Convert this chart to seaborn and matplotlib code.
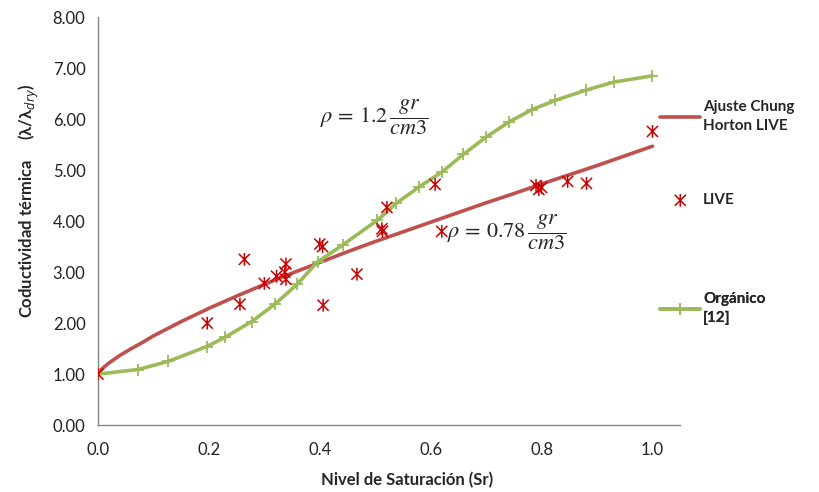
import matplotlib
matplotlib.use("Agg")
import matplotlib.pyplot as plt
from matplotlib.path import Path
import seaborn as sns

# fitted Chung-Horton curve
fit_x = [0.0, 0.005, 0.01, 0.02, 0.04, 0.06, 0.08, 0.1, 0.15, 0.2, 0.25, 0.3, 0.35, 0.4,
         0.45, 0.5, 0.55, 0.6, 0.65, 0.7, 0.75, 0.8, 0.85, 0.9, 0.95, 1.0]
fit_y = [1.00, 1.08, 1.13, 1.22, 1.37, 1.50, 1.62, 1.75, 2.03, 2.29, 2.53, 2.76, 2.98, 3.19,
         3.40, 3.60, 3.79, 3.98, 4.17, 4.36, 4.54, 4.73, 4.91, 5.09, 5.28, 5.47]

# LIVE measurements
live_x = [0.0, 0.197, 0.256, 0.264, 0.30, 0.322, 0.337, 0.339, 0.339, 0.40, 0.405, 0.406,
          0.467, 0.512, 0.513, 0.521, 0.608, 0.62, 0.79, 0.795, 0.80, 0.847, 0.881, 1.0]
live_y = [1.00, 2.00, 2.37, 3.25, 2.78, 2.92, 3.00, 3.16, 2.86, 3.55, 3.50, 2.35,
          2.96, 3.85, 3.80, 4.27, 4.72, 3.80, 4.70, 4.62, 4.66, 4.78, 4.74, 5.76]

# Organic soil reference [12]
org_x = [0.0, 0.072, 0.127, 0.196, 0.229, 0.277, 0.319, 0.359, 0.396, 0.441, 0.504, 0.538,
         0.579, 0.621, 0.659, 0.70, 0.742, 0.783, 0.825, 0.88, 0.931, 1.0]
org_y = [1.00, 1.09, 1.25, 1.54, 1.72, 2.03, 2.37, 2.76, 3.20, 3.53, 4.02, 4.35,
         4.67, 4.97, 5.31, 5.65, 5.95, 6.19, 6.37, 6.57, 6.73, 6.85]

red_line = "#C0504D"
red_mark = "#CC0000"
green = "#9BBB59"

sns.set_style("white")
plt.rcParams["font.family"] = ["Lato", "DejaVu Sans"]
plt.rcParams["mathtext.fontset"] = "dejavusans"

# excel style star: an X with a vertical bar
star = Path([(-1, -1), (1, 1), (-1, 1), (1, -1), (0, -1.15), (0, 1.15)],
            [Path.MOVETO, Path.LINETO] * 3)

fig = plt.figure(figsize=(8.2, 4.92), dpi=100)
ax = fig.add_axes([0.1195, 0.136, 0.71, 0.829])

sns.lineplot(x=fit_x, y=fit_y, ax=ax, color=red_line, lw=2.6,
             label="Ajuste Chung\nHorton LIVE", legend=False)
sns.scatterplot(x=live_x, y=live_y, ax=ax, marker=star, s=85, facecolor="none",
                edgecolor=red_mark, linewidth=1.1, color=red_mark, label="LIVE", zorder=4)
sns.lineplot(x=org_x, y=org_y, ax=ax, color=green, lw=2.6, marker="+", ms=8, mew=1.3,
             mec=green, label="Orgánico\n[12]")

ax.set_xlim(0, 1.05)
ax.set_ylim(0, 8)
ax.set_xticks([0.0, 0.2, 0.4, 0.6, 0.8, 1.0])
ax.set_xticklabels(["0.0", "0.2", "0.4", "0.6", "0.8", "1.0"])
ax.set_yticks(range(9))
ax.set_yticklabels([f"{v:.2f}" for v in range(9)])
ax.tick_params(labelsize=12, colors="#222222", length=0)
ax.tick_params(axis="x", pad=12)
ax.tick_params(axis="y", pad=9)

for s in ["top", "right"]:
    ax.spines[s].set_visible(False)
for s in ["left", "bottom"]:
    ax.spines[s].set_color("#868686")
    ax.spines[s].set_linewidth(1)

ax.set_xlabel("Nivel de Saturación (Sr)", fontsize=12, fontweight="bold")
ax.xaxis.set_label_coords(0.531, -0.115)
ax.set_ylabel("Coductividad térmica     (λ/λ$_{dry}$)", fontsize=12, fontweight="bold")
ax.yaxis.set_label_coords(-0.098, 0.549)

ax.text(0.40, 6.04, r"$\rho\,=\,1.2\,\dfrac{gr}{cm3}$", fontsize=16, va="center",
        math_fontfamily="stix")
ax.text(0.63, 3.78, r"$\rho\,=\,0.78\,\dfrac{gr}{cm3}$", fontsize=16, va="center",
        math_fontfamily="stix")

# one legend per entry so each can sit where the reference has it
handles, labels = ax.get_legend_handles_labels()
ax.get_legend().remove()
for h, lab, ypos in zip(handles, labels, [0.756, 0.551, 0.2855]):
    leg = ax.legend(handles=[h], labels=[lab], loc="center left",
                    bbox_to_anchor=(0.966, ypos), frameon=False,
                    prop={"weight": "bold", "size": 11},
                    handlelength=2.6, handletextpad=0.2, borderaxespad=0, borderpad=0)
    for t in leg.get_texts():
        t.set_linespacing(1.5)
    ax.add_artist(leg)

fig.savefig("out.png", dpi=100)
